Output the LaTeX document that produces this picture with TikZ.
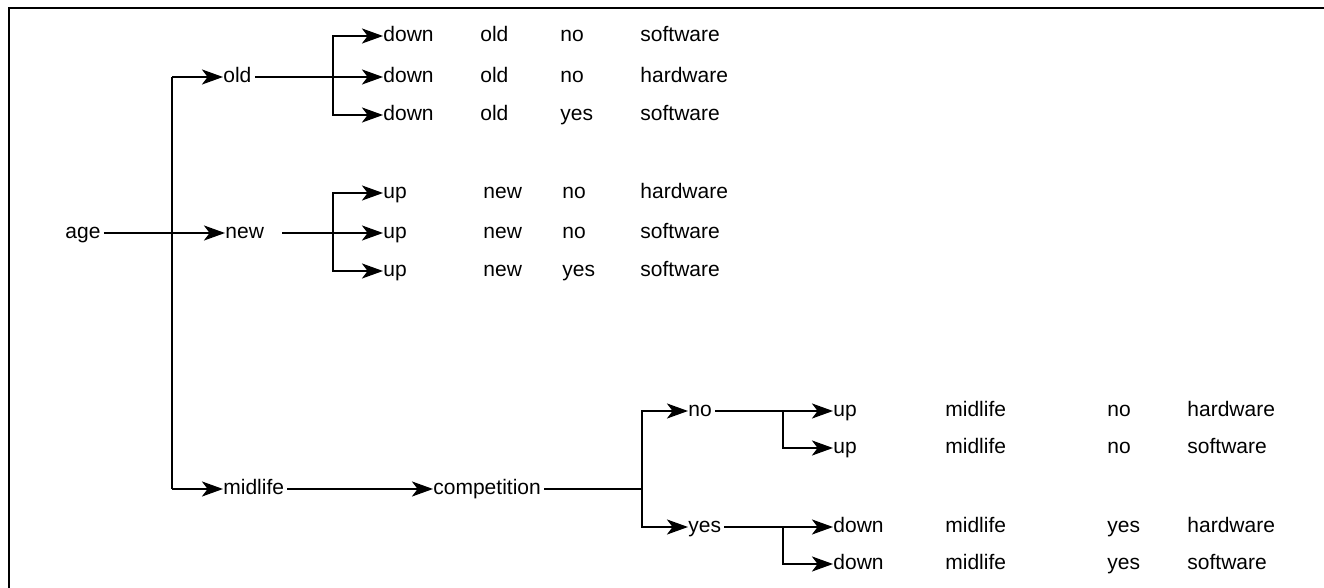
\documentclass[tikz,border=0pt]{standalone}
\usepackage{fontspec}
\setmainfont{Liberation Sans}
\usetikzlibrary{arrows.meta}
\begin{document}
\begin{tikzpicture}[x=0.5pt,y=-0.5pt,
  lbl/.style={inner sep=0pt, anchor=west, text height=1ex, text depth=0pt, font=\fontsize{10.5}{12}\selectfont},
  ln/.style={line width=1.1pt},
  thinln/.style={line width=0.6pt},
  trunkln/.style={line width=0.85pt},
  arr/.style={ln,-{Stealth[length=10.5pt,width=7.5pt,inset=2.8pt]}},
  frameln/.style={line width=1.3pt}]
\useasboundingbox (0,0) rectangle (1324,588);
% frame (top and left only)
\coordinate (fTL) at (9,8);
\coordinate (fTR) at (1324,8);
\coordinate (fBL) at (9,588);
\draw[frameln] (fBL) -- (fTL) -- (fTR);

% inner nodes
\node[lbl] (age) at (65,233) {age};
\node[lbl] (old) at (223,77) {old};
\node[lbl] (new) at (225,233) {new};
\node[lbl] (mid) at (223,489) {midlife};
\node[lbl] (comp) at (433,489) {competition};
\node[lbl] (cno) at (688,411) {no};
\node[lbl] (cyes) at (688,527) {yes};

% old rows
\node[lbl] (o1a) at (383,36) {down}; \node[lbl] (o1b) at (480,36) {old}; \node[lbl] (o1c) at (560,36) {no};  \node[lbl] (o1d) at (640,36) {software};
\node[lbl] (o2a) at (383,77) {down}; \node[lbl] (o2b) at (480,77) {old}; \node[lbl] (o2c) at (560,77) {no};  \node[lbl] (o2d) at (640,77) {hardware};
\node[lbl] (o3a) at (383,115) {down}; \node[lbl] (o3b) at (480,115) {old}; \node[lbl] (o3c) at (560,115) {yes}; \node[lbl] (o3d) at (640,115) {software};
% new rows
\node[lbl] (n1a) at (383,193) {up}; \node[lbl] (n1b) at (483,193) {new}; \node[lbl] (n1c) at (562,193) {no};  \node[lbl] (n1d) at (640,193) {hardware};
\node[lbl] (n2a) at (383,233) {up}; \node[lbl] (n2b) at (483,233) {new}; \node[lbl] (n2c) at (562,233) {no};  \node[lbl] (n2d) at (640,233) {software};
\node[lbl] (n3a) at (383,271) {up}; \node[lbl] (n3b) at (483,271) {new}; \node[lbl] (n3c) at (562,271) {yes}; \node[lbl] (n3d) at (640,271) {software};
% midlife rows
\node[lbl] (m1a) at (833,411) {up};   \node[lbl] (m1b) at (945,411) {midlife}; \node[lbl] (m1c) at (1107,411) {no};  \node[lbl] (m1d) at (1187,411) {hardware};
\node[lbl] (m2a) at (833,448) {up};   \node[lbl] (m2b) at (945,448) {midlife}; \node[lbl] (m2c) at (1107,448) {no};  \node[lbl] (m2d) at (1187,448) {software};
\node[lbl] (m3a) at (833,527) {down}; \node[lbl] (m3b) at (945,527) {midlife}; \node[lbl] (m3c) at (1107,527) {yes}; \node[lbl] (m3d) at (1187,527) {hardware};
\node[lbl] (m4a) at (833,564) {down}; \node[lbl] (m4b) at (945,564) {midlife}; \node[lbl] (m4c) at (1107,564) {yes}; \node[lbl] (m4d) at (1187,564) {software};

% trunk
\coordinate (tTop) at (172,77);
\coordinate (tBot) at (172,489);
\draw[trunkln] (tTop) -- (tBot);
\draw[arr] (tTop) -- (old.west);
\draw[arr] (tBot) -- (mid.west);
\draw[arr] ([xshift=1.5pt]age.east) -- (new.west);

% old branch
\coordinate (bo) at (333,77);
\draw[ln] ([xshift=1.5pt]old.east) -- (bo);
\draw[arr] (bo) |- (o1a.west);
\draw[arr] (bo) -- (o2a.west);
\draw[arr] (bo) |- (o3a.west);

% new branch
\coordinate (bn) at (333,233);
\draw[thinln] ([xshift=9pt]new.east) -- (bn);
\draw[arr] (bn) |- (n1a.west);
\draw[arr] (bn) -- (n2a.west);
\draw[arr] (bn) |- (n3a.west);

% midlife branch
\draw[arr] ([xshift=1.5pt]mid.east) -- (comp.west);
\coordinate (bc) at (642,489);
\draw[ln] ([xshift=1.5pt]comp.east) -- (bc);
\draw[arr] (bc) |- (cno.west);
\draw[arr] (bc) |- (cyes.west);

\coordinate (bno) at (783,411);
\draw[ln] ([xshift=1.5pt]cno.east) -- (bno);
\draw[arr] (bno) -- (m1a.west);
\draw[arr] (bno) |- (m2a.west);

\coordinate (byes) at (783,527);
\draw[ln] ([xshift=1.5pt]cyes.east) -- (byes);
\draw[arr] (byes) -- (m3a.west);
\draw[arr] (byes) |- (m4a.west);
\end{tikzpicture}
\end{document}
